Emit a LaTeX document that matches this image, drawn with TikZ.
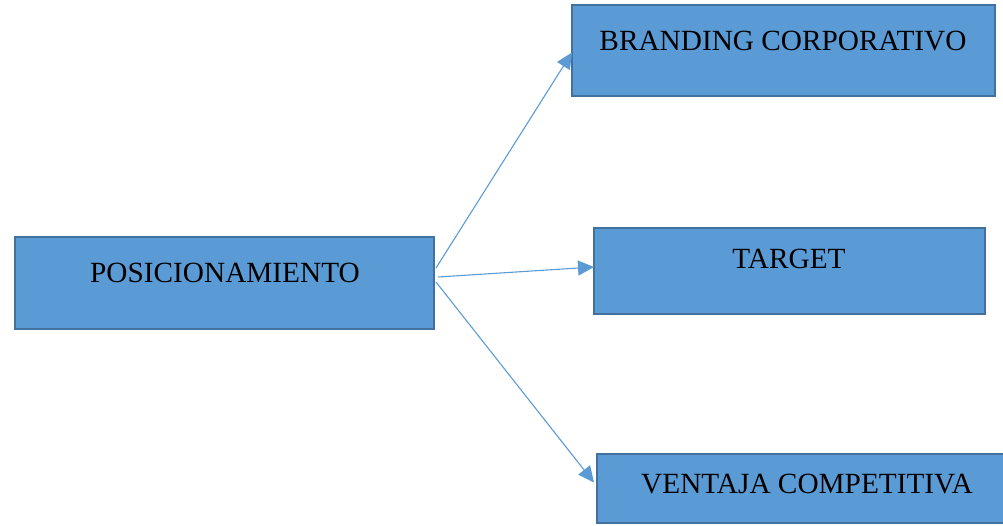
\documentclass[tikz,border=0pt]{standalone}
\usepackage{fontspec}
\setmainfont{Liberation Serif}
\usetikzlibrary{arrows.meta}
\definecolor{boxfill}{HTML}{5B9BD5}
\definecolor{boxline}{HTML}{41719C}
\definecolor{arrowc}{HTML}{5B9BD5}
\tikzset{
  box/.style={draw=boxline, fill=boxfill, line width=2.5pt, inner sep=0pt, outer sep=0pt, anchor=north west},
  lbl/.style={anchor=base, inner sep=0pt, font=\fontsize{29.3}{32}\selectfont, text=black},
  conn/.style={draw=arrowc, line width=1.1pt, -{Triangle[length=16pt,width=15pt]}}
}
\begin{document}
\begin{tikzpicture}[x=1pt,y=-1pt]
\useasboundingbox (0,0) rectangle (1003,525);
\node[box, minimum width=419pt, minimum height=92pt] (pos) at (15,237) {};
\node[box, minimum width=423pt, minimum height=91pt] (b1) at (572,5) {};
\node[box, minimum width=391pt, minimum height=86pt] (b2) at (594,228) {};
\node[box, minimum width=420pt, minimum height=69pt] (b3) at (597,454) {};
\node[lbl] (tpos) at (225,282) {POSICIONAMIENTO};
\node[lbl] (t1) at (783,50) {BRANDING CORPORATIVO};
\node[lbl] (t2) at (789,268) {TARGET};
\node[lbl] (t3) at (807,493) {VENTAJA COMPETITIVA};
\draw[conn] ([xshift=2pt,yshift=15pt]pos.east) -- ([yshift=-2pt]b1.west);
\draw[conn] ([xshift=4pt,yshift=6pt]pos.east) -- ([yshift=4pt]b2.west);
\draw[conn] ([xshift=2pt,yshift=1pt]pos.east) -- ([xshift=-3pt,yshift=6pt]b3.west);
\end{tikzpicture}
\end{document}
